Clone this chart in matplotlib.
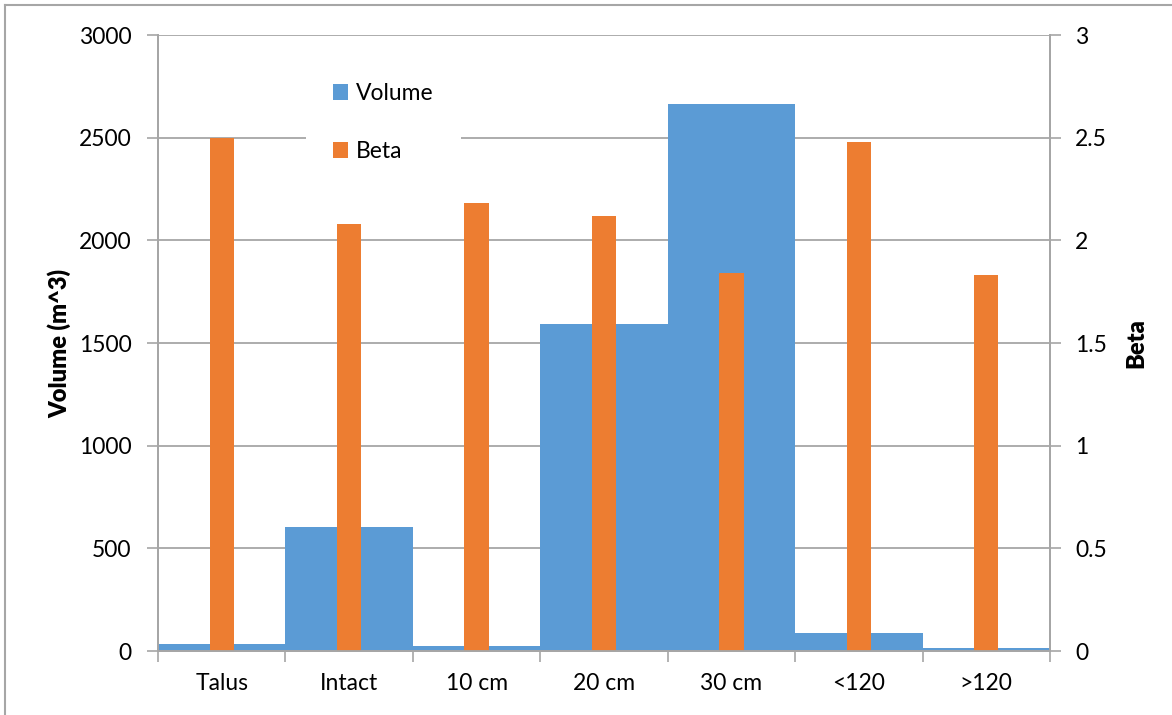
import matplotlib
matplotlib.use("Agg")
import matplotlib.pyplot as plt
from matplotlib.patches import Patch
from matplotlib.lines import Line2D
import numpy as np

categories = ['Talus', 'Intact', '10 cm', '20 cm', '30 cm', '<120', '>120']
volume = [33, 602, 26, 1594, 2664, 88, 13]
beta = [2.50, 2.08, 2.18, 2.12, 1.84, 2.48, 1.83]

blue = '#5B9BD5'
orange = '#ED7D31'
grid_col = '#A6A6A6'

plt.rcParams['font.family'] = ['Lato', 'DejaVu Sans']

fig = plt.figure(figsize=(11.72, 7.15), dpi=100)
ax1 = fig.add_axes([158 / 1172, 64 / 715, 892 / 1172, 616 / 715])
ax2 = ax1.twinx()

x = np.arange(len(categories))
ax1.bar(x, volume, width=1.0, color=blue, zorder=2)
ax2.bar(x, beta, width=0.19, color=orange, zorder=2)

ax1.set_xlim(-0.5, len(categories) - 0.5)
ax1.set_ylim(0, 3000)
ax2.set_ylim(0, 3)
ax1.set_yticks(np.arange(0, 3001, 500))
ax2.set_yticks([0, 0.5, 1, 1.5, 2, 2.5, 3])
ax2.set_yticklabels(['0', '0.5', '1', '1.5', '2', '2.5', '3'])

ax1.set_xticks(x)
ax1.set_xticklabels(categories)
ax1.set_xticks(np.arange(-0.5, len(categories)), minor=True)
ax1.tick_params(axis='x', which='major', length=0, pad=16, labelsize=16.5)
ax1.tick_params(axis='x', which='minor', length=8, width=1.2, color=grid_col, direction='out')
ax1.tick_params(axis='y', length=8, width=1.2, color=grid_col, pad=11, labelsize=16.5)
ax2.tick_params(axis='y', length=8, width=1.2, color=grid_col, pad=10, labelsize=16.5)

ax1.grid(axis='y', color=grid_col, linewidth=1.3, zorder=0)
ax1.set_axisbelow(True)

for ax in (ax1, ax2):
    ax.spines['top'].set_visible(False)
    for s in ('left', 'right', 'bottom'):
        ax.spines[s].set_color(grid_col)
        ax.spines[s].set_linewidth(1.3)

ax1.set_ylabel('Volume (m^3)', fontsize=17, fontweight='heavy')
ax1.yaxis.set_label_coords(-0.097, 0.5)
ax2.set_ylabel('Beta', fontsize=17, fontweight='heavy', labelpad=13)

handles = [Patch(facecolor=blue, edgecolor='none', label='Volume'),
           Patch(facecolor=orange, edgecolor='none', label='Beta')]
leg = ax2.legend(handles=handles, loc='center', bbox_to_anchor=(0.2528, 0.858),
                 frameon=True, fancybox=False, fontsize=16.5, labelspacing=1.62,
                 handlelength=0.65, handleheight=0.65, handletextpad=0.35,
                 borderpad=1.2)
leg.get_frame().set_facecolor('white')
leg.get_frame().set_edgecolor('none')
leg.get_frame().set_alpha(1)

# outer chart border
fig.add_artist(Line2D([5 / 1172, 5 / 1172], [0, 1 - 5 / 715], transform=fig.transFigure,
                      color=grid_col, linewidth=1.5))
fig.add_artist(Line2D([5 / 1172, 1], [1 - 5 / 715, 1 - 5 / 715], transform=fig.transFigure,
                      color=grid_col, linewidth=1.5))

fig.savefig('out.png', dpi=100)
